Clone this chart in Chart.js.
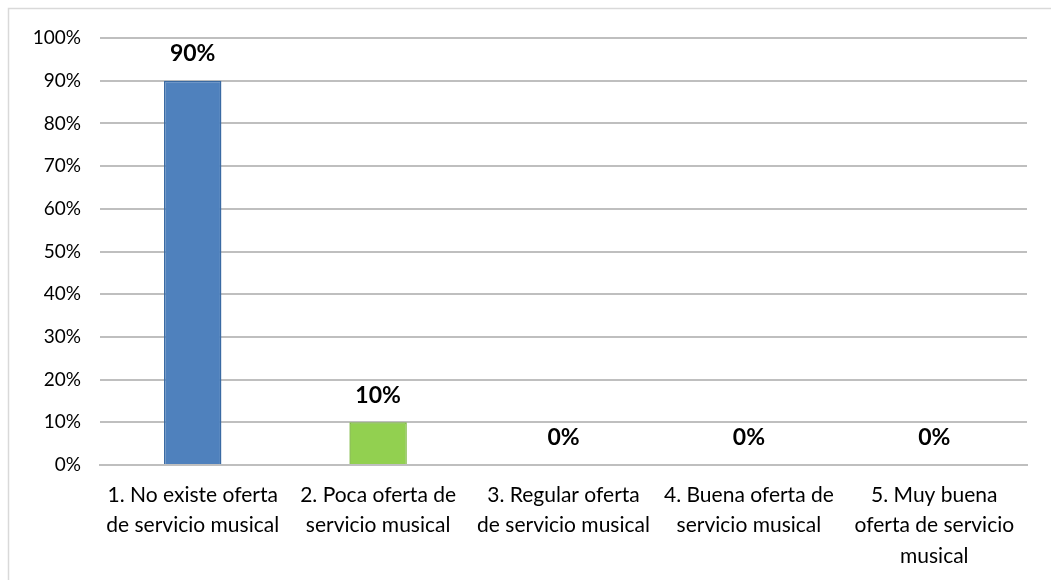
<!DOCTYPE html>
<html>
<head>
<meta charset="utf-8">
<script src="https://cdn.jsdelivr.net/npm/chart.js@4"></script>
<style>
  html, body { margin: 0; padding: 0; background: #fff; }
  #wrap { width: 1051px; height: 580px; }
</style>
</head>
<body>
<div id="wrap"><canvas id="chart"></canvas></div>
<script>
const categories = [
    ['1. No existe oferta', 'de servicio musical'],
    ['2. Poca oferta de', 'servicio musical'],
    ['3. Regular oferta', 'de servicio musical'],
    ['4. Buena oferta de', 'servicio musical'],
    ['5. Muy buena', 'oferta de servicio', 'musical']
];
const percentValues = [90, 10, 0, 0, 0];
const barColors = ['#4f81bd', '#92d050', '#4f81bd', '#4f81bd', '#4f81bd'];
const barBorders = ['#3a6aa3', '#7cb83e', '#3a6aa3', '#3a6aa3', '#3a6aa3'];

const FONT = 'Lato, "Open Sans", sans-serif';

// marco gris alrededor del grafico
const framePlugin = {
    id: 'frame',
    beforeDraw(chart) {
        const c = chart.ctx;
        c.save();
        c.strokeStyle = '#d9d9d9';
        c.lineWidth = 1.5;
        c.strokeRect(8.5, 8.5, 1200, 800);
        c.restore();
    }
};

// etiquetas de porcentaje encima de cada barra
const labelPlugin = {
    id: 'barLabels',
    afterDatasetsDraw(chart) {
        const c = chart.ctx;
        const meta = chart.getDatasetMeta(0);
        c.save();
        c.font = 'bold 23px ' + FONT;
        c.fillStyle = '#000';
        c.textAlign = 'center';
        c.textBaseline = 'middle';
        meta.data.forEach(function(bar, i) {
            c.fillText(percentValues[i] + '%', bar.x, bar.y - 27);
        });
        c.restore();
    }
};

const ctx = document.querySelector('#chart');

const chart = new Chart(ctx.getContext('2d'), {
    type: 'bar',
    data: {
        labels: categories,
        datasets: [
            {
                data: percentValues,
                backgroundColor: barColors,
                borderColor: barBorders,
                borderWidth: 1.5,
                barPercentage: 0.62,
                categoryPercentage: 0.5
            }
        ]
    },
    options: {
        responsive: true,
        maintainAspectRatio: false,
        animation: false,
        layout: {
            padding: { left: 20, top: 38, right: 24, bottom: 0 }
        },
        plugins: {
            legend: { display: false },
            tooltip: { enabled: false }
        },
        scales: {
            y: {
                min: 0,
                max: 100,
                afterFit: function(scale) { scale.width = 80; },
                ticks: {
                    stepSize: 10,
                    color: '#000',
                    padding: 19,
                    font: { family: FONT, size: 19 },
                    callback: function(value) { return value + '%'; }
                },
                grid: {
                    color: '#bfbfbf',
                    lineWidth: 2,
                    drawTicks: false
                },
                border: { display: false }
            },
            x: {
                afterFit: function(scale) { scale.height = 115; },
                ticks: {
                    color: '#000',
                    padding: 15,
                    maxRotation: 0,
                    autoSkip: false,
                    font: { family: FONT, size: 21, lineHeight: 1.45 }
                },
                grid: { display: false, drawTicks: false },
                border: { color: '#bfbfbf', width: 2 }
            }
        }
    },
    plugins: [framePlugin, labelPlugin]
});
</script>
</body>
</html>
